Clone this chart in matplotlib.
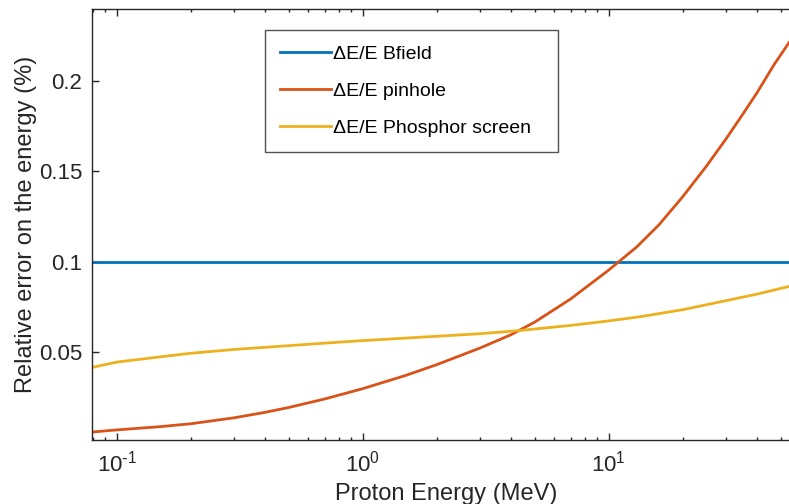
import matplotlib
matplotlib.use("Agg")
import matplotlib.pyplot as plt
from matplotlib.ticker import FixedLocator, FixedFormatter, LogLocator

plt.rcParams['font.family'] = ['Liberation Sans', 'DejaVu Sans']
plt.rcParams['mathtext.default'] = 'regular'
plt.rcParams['axes.unicode_minus'] = False

# Energy axis (MeV) and the relative errors
energy_pin = [0.079, 0.1, 0.15, 0.2, 0.3, 0.4, 0.5, 0.7, 1, 1.5, 2, 3, 4, 5, 7,
              10, 13, 16, 20, 25, 30, 35, 40, 47, 55]
err_pinhole = [0.0058, 0.0070, 0.0088, 0.0104, 0.0137, 0.0167, 0.0194, 0.0241,
               0.0298, 0.0372, 0.0431, 0.0523, 0.0596, 0.0666, 0.0794, 0.0954,
               0.1082, 0.1204, 0.1360, 0.1530, 0.1680, 0.1814, 0.1933, 0.2090,
               0.2227]

energy_ph = [0.079, 0.1, 0.15, 0.2, 0.3, 0.5, 0.7, 1, 2, 3, 4.36, 7, 10, 13.4,
             20, 30, 40, 55]
err_phosphor = [0.0415, 0.0445, 0.0474, 0.0494, 0.0515, 0.0536, 0.0550, 0.0564,
                0.0588, 0.0602, 0.0620, 0.0648, 0.0673, 0.0696, 0.0735, 0.0785,
                0.0821, 0.0866]

energy_b = [0.079, 55]
err_bfield = [0.1, 0.1]

labels = ['\u0394E/E Bfield', '\u0394E/E pinhole', '\u0394E/E Phosphor screen']
colors = ['#0072BD', '#D95319', '#EDB120']

xticks = [0.1, 1, 10]
xtick_labels = ['$10^{\\text{-}1}$', '$10^{0}$', '$10^{1}$']
yticks = [0.05, 0.1, 0.15, 0.2]
ytick_labels = ['0.05', '0.1', '0.15', '0.2']

fig = plt.figure(figsize=(7.89, 5.04), dpi=100)
ax = fig.add_axes([91.5 / 789, 1 - 439.5 / 504, 708.6 / 789, 431 / 504])

ax.plot(energy_b, err_bfield, color=colors[0], lw=2, label=labels[0])
ax.plot(energy_pin, err_pinhole, color=colors[1], lw=2, label=labels[1])
ax.plot(energy_ph, err_phosphor, color=colors[2], lw=2, label=labels[2])

ax.set_xscale('log')
ax.set_xlim(0.079, 60)
ax.set_ylim(0.0017, 0.2401)
ax.xaxis.set_major_locator(FixedLocator(xticks))
ax.xaxis.set_major_formatter(FixedFormatter(xtick_labels))
ax.xaxis.set_minor_locator(LogLocator(base=10, subs=range(2, 10), numticks=20))
ax.yaxis.set_major_locator(FixedLocator(yticks))
ax.yaxis.set_major_formatter(FixedFormatter(ytick_labels))

for s in ['top', 'bottom', 'left', 'right']:
    ax.spines[s].set_color('#262626')
    ax.spines[s].set_linewidth(1.0)

ax.tick_params(which='both', direction='in', top=True, right=True,
               colors='#262626', labelsize=16, width=1.0)
ax.tick_params(which='major', length=5)
ax.tick_params(which='minor', length=2.5)
ax.tick_params(axis='x', pad=8)
ax.tick_params(axis='y', pad=6.5)

ax.set_xlabel('Proton Energy (MeV)', fontsize=17, color='#262626', labelpad=5)
ax.set_ylabel('Relative error on the energy (%)', fontsize=17, color='#262626',
              labelpad=1.5)

leg = ax.legend(loc='upper left',
                bbox_to_anchor=(265 / 789, 1 - 152 / 504, 293 / 789, 122 / 504),
                bbox_transform=fig.transFigure, borderaxespad=0, mode='expand',
                fontsize=14, frameon=True, fancybox=False, handlelength=2.6,
                handletextpad=0.1, labelspacing=1.0, borderpad=0.78)
leg.get_frame().set_edgecolor('#262626')
leg.get_frame().set_linewidth(1.0)

fig.savefig('out.png', dpi=100)
